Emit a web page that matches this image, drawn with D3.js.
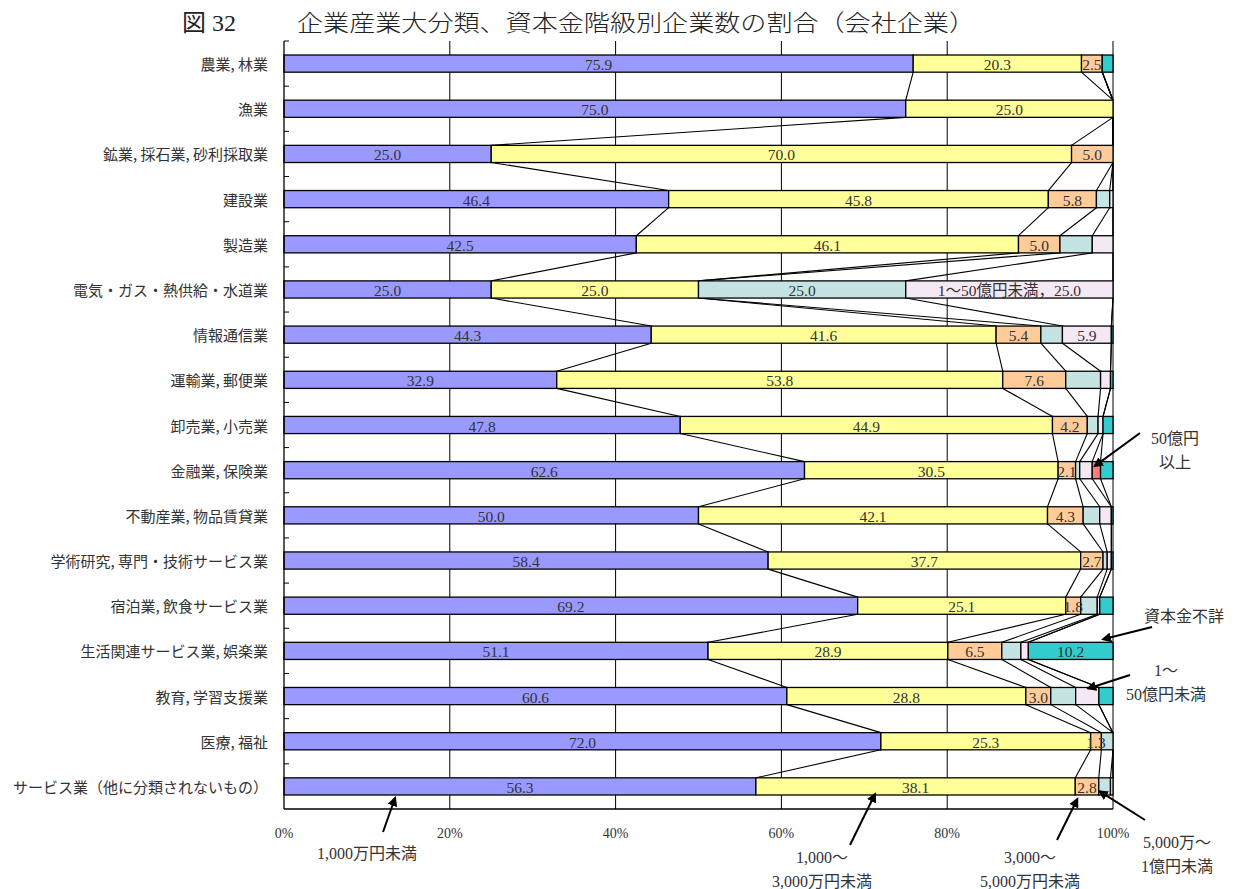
<!DOCTYPE html>
<html>
<head>
<meta charset="utf-8">
<script src="https://cdn.jsdelivr.net/npm/d3@7"></script>
<style>
  body { margin: 0; background: #fff; }
  svg { display: block; }
</style>
</head>
<body>
<svg id="chart" width="1236" height="889"></svg>
<script>
// categories (top to bottom)
const categories = [
    '農業, 林業', '漁業', '鉱業, 採石業, 砂利採取業', '建設業', '製造業',
    '電気・ガス・熱供給・水道業', '情報通信業', '運輸業, 郵便業', '卸売業, 小売業',
    '金融業, 保険業', '不動産業, 物品賃貸業', '学術研究, 専門・技術サービス業',
    '宿泊業, 飲食サービス業', '生活関連サービス業, 娯楽業', '教育, 学習支援業',
    '医療, 福祉', 'サービス業（他に分類されないもの）'
];

// series names
const seriesNames = [
    '1,000万円未満', '1,000～3,000万円未満', '3,000～5,000万円未満',
    '5,000万～1億円未満', '1～50億円未満', '50億円以上', '資本金不詳'
];

// values (%) per series
const under10m   = [75.9, 75.0, 25.0, 46.4, 42.5, 25.0, 44.3, 32.9, 47.8, 62.6, 50.0, 58.4, 69.2, 51.1, 60.6, 72.0, 56.3];
const from10to30 = [20.3, 25.0, 70.0, 45.8, 46.1, 25.0, 41.6, 53.8, 44.9, 30.5, 42.1, 37.7, 25.1, 28.9, 28.8, 25.3, 38.1];
const from30to50 = [2.5, 0, 5.0, 5.8, 5.0, 0, 5.4, 7.6, 4.2, 2.1, 4.3, 2.7, 1.8, 6.5, 3.0, 1.3, 2.8];
const from50to100 = [0, 0, 0, 1.6, 3.9, 25.0, 2.6, 4.2, 1.3, 0.5, 2.0, 0.5, 2.0, 2.3, 3.0, 1.4, 1.4];
const from1to50oku = [0, 0, 0, 0.4, 2.5, 25.0, 5.9, 1.2, 0.6, 1.5, 1.4, 0.5, 0.3, 0.9, 2.8, 0, 0.3];
const over50oku  = [0, 0, 0, 0, 0, 0, 0, 0, 0, 1.0, 0, 0, 0, 0, 0, 0, 0];
const unknownCap = [1.3, 0, 0, 0, 0, 0, 0.2, 0.3, 1.2, 1.5, 0.2, 0.2, 1.6, 10.2, 1.7, 0, 0];

const xTicks = [0, 0.2, 0.4, 0.6, 0.8, 1.0];

const colors = ['#9999ff', '#ffff99', '#ffcc99', '#c6e3e3', '#f4e8f4', '#ff7c80', '#33cccc'];

const seriesValues = [under10m, from10to30, from30to50, from50to100, from1to50oku, over50oku, unknownCap];

// build table for d3.stack
const table = categories.map((c, i) => {
    const row = { category: c };
    seriesNames.forEach((s, k) => { row[s] = seriesValues[k][i]; });
    return row;
});

const svg = d3.select('#chart');
const margin = { top: 41, right: 123, bottom: 80, left: 284 };
const width = 1236, height = 889;

const x = d3.scaleLinear()
    .domain([0, 1])
    .range([margin.left, width - margin.right]);

const y = d3.scaleBand()
    .domain(categories)
    .range([margin.top, height - margin.bottom])
    .paddingInner(0.62)
    .paddingOuter(0.31);

const stacked = d3.stack()
    .keys(seriesNames)
    .offset(d3.stackOffsetExpand)(table);

const serifFont = '"Liberation Serif", "Noto Sans CJK JP", serif';
const sansFont = '"Noto Sans CJK JP", sans-serif';

// title
svg.append('text')
    .attr('x', 182).attr('y', 31)
    .style('font-family', serifFont)
    .style('font-size', '24px')
    .style('fill', '#222')
    .text('図 32');
svg.append('text')
    .attr('x', 297).attr('y', 31)
    .attr('textLength', 678)
    .attr('lengthAdjust', 'spacingAndGlyphs')
    .style('font-family', serifFont)
    .style('font-size', '23px')
    .style('font-weight', 300)
    .style('fill', '#222')
    .text('企業産業大分類、資本金階級別企業数の割合（会社企業）');

// vertical gridlines
svg.append('g')
    .selectAll('line')
    .data(xTicks.slice(1))
    .enter()
    .append('line')
    .attr('x1', d => x(d)).attr('x2', d => x(d))
    .attr('y1', margin.top).attr('y2', height - margin.bottom)
    .attr('stroke', '#000')
    .attr('stroke-width', 1);

// connector lines between consecutive bars
const half = y.bandwidth() / 2;
const connectors = svg.append('g').attr('class', 'connectors');
stacked.slice(0, stacked.length - 1).forEach(layer => {
    for (let i = 0; i < categories.length - 1; i++) {
        connectors.append('line')
            .attr('x1', x(layer[i][1]))
            .attr('y1', y(categories[i]) + y.bandwidth())
            .attr('x2', x(layer[i + 1][1]))
            .attr('y2', y(categories[i + 1]))
            .attr('stroke', '#000')
            .attr('stroke-width', 1.1);
    }
});

// bars
const layers = svg.append('g')
    .selectAll('g')
    .data(stacked)
    .enter()
    .append('g')
    .attr('fill', (d, k) => colors[k]);

layers.selectAll('rect')
    .data(d => d.filter(p => p[1] - p[0] > 0))
    .enter()
    .append('rect')
    .attr('x', d => x(d[0]))
    .attr('y', d => y(d.data.category))
    .attr('width', d => x(d[1]) - x(d[0]))
    .attr('height', y.bandwidth())
    .attr('stroke', '#000')
    .attr('stroke-width', 1.3);

// value labels
stacked.forEach((layer, k) => {
    layer.forEach((p, i) => {
        const v = seriesValues[k][i];
        const show = k < 3 ? v > 0 : v >= 5;
        if (!show) return;
        let label = v.toFixed(1);
        if (k === 4 && v >= 20) label = '1～50億円未満，' + label;
        svg.append('text')
            .attr('x', (x(p[0]) + x(p[1])) / 2)
            .attr('y', y(categories[i]) + half + 1)
            .attr('text-anchor', 'middle')
            .attr('dominant-baseline', 'central')
            .style('font-family', serifFont)
            .style('font-size', '15.5px')
            .style('fill', '#333')
            .text(label);
    });
});

// left axis with ticks between categories
svg.append('line')
    .attr('x1', x(0)).attr('x2', x(0))
    .attr('y1', margin.top).attr('y2', height - margin.bottom)
    .attr('stroke', '#000').attr('stroke-width', 1.3);
svg.append('line')
    .attr('x1', x(0)).attr('x2', x(1))
    .attr('y1', height - margin.bottom).attr('y2', height - margin.bottom)
    .attr('stroke', '#000').attr('stroke-width', 1.3);

const step = y.step();
svg.append('g')
    .selectAll('line')
    .data(d3.range(categories.length))
    .enter()
    .append('line')
    .attr('x1', x(0)).attr('x2', x(0) + 5)
    .attr('y1', i => margin.top + i * step)
    .attr('y2', i => margin.top + i * step)
    .attr('stroke', '#000');

// category labels
svg.append('g')
    .selectAll('text')
    .data(categories)
    .enter()
    .append('text')
    .attr('x', x(0) - 16)
    .attr('y', d => y(d) + half)
    .attr('text-anchor', 'end')
    .attr('dominant-baseline', 'central')
    .style('font-family', sansFont)
    .style('font-size', '15px')
    .style('fill', '#333')
    .text(d => d);

// x tick labels
svg.append('g')
    .selectAll('text')
    .data(xTicks)
    .enter()
    .append('text')
    .attr('x', d => x(d))
    .attr('y', height - margin.bottom + 24)
    .attr('text-anchor', 'middle')
    .attr('dominant-baseline', 'central')
    .style('font-family', serifFont)
    .style('font-size', '14px')
    .style('fill', '#333')
    .text(d => d3.format('.0%')(d));

// arrow marker
svg.append('defs').append('marker')
    .attr('id', 'arrow')
    .attr('viewBox', '0 0 10 10')
    .attr('refX', 8).attr('refY', 5)
    .attr('markerWidth', 5).attr('markerHeight', 5)
    .attr('orient', 'auto')
    .append('path')
    .attr('d', 'M0,0 L10,5 L0,10 z')
    .attr('fill', '#000');

// legend callouts: tip placed from the scales, text offset in px
const rowTop = c => y(c);
const rowMid = c => y(c) + half;
const rowBot = c => y(c) + y.bandwidth();
const last = categories[16];
const callouts = [
    { lines: ['1,000万円未満'], tip: [x(0.134), rowBot(last) + 3], from: [383, 832], text: [367, 853] },
    { lines: ['1,000～', '3,000万円未満'], tip: [x(0.713), rowBot(last) - 1], from: [850, 845], text: [822, 857] },
    { lines: ['3,000～', '5,000万円未満'], tip: [x(0.957), rowBot(last) + 4], from: [1057, 840], text: [1030, 857] },
    { lines: ['5,000万～', '1億円未満'], tip: [x(0.984), rowMid(last) + 5], from: [1145, 820], text: [1177, 842] },
    { lines: ['50億円', '以上'], tip: [x(0.978), rowMid(categories[9]) - 4], from: [1140, 433], text: [1175, 438] },
    { lines: ['資本金不詳'], tip: [x(0.988), rowTop(categories[13]) - 3], from: [1152, 627], text: [1184, 616] },
    { lines: ['1～', '50億円未満'], tip: [x(0.97), rowTop(categories[14]) + 1], from: [1130, 675], text: [1166, 670] }
];

callouts.forEach(c => {
    svg.append('line')
        .attr('x1', c.from[0]).attr('y1', c.from[1])
        .attr('x2', c.tip[0]).attr('y2', c.tip[1])
        .attr('stroke', '#000')
        .attr('stroke-width', 2)
        .attr('marker-end', 'url(#arrow)');
    c.lines.forEach((t, j) => {
        svg.append('text')
            .attr('x', c.text[0])
            .attr('y', c.text[1] + j * 24)
            .attr('text-anchor', 'middle')
            .attr('dominant-baseline', 'central')
            .style('font-family', serifFont)
            .style('font-size', '16px')
            .style('fill', '#333')
            .text(t);
    });
});
</script>
</body>
</html>
